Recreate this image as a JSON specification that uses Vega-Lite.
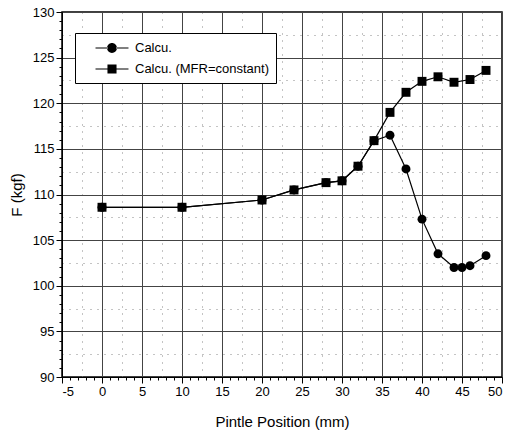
{
  "$schema": "https://vega.github.io/schema/vega-lite/v6.json",
  "width": 440,
  "height": 365,
  "autosize": {"type": "none"},
  "padding": {"left": 62, "top": 12, "right": 6, "bottom": 62},
  "background": "white",
  "config": {
    "view": {"stroke": "black", "strokeWidth": 1.5},
    "font": "Liberation Sans",
    "axis": {"labelColor": "black", "titleColor": "black", "tickColor": "black", "domainColor": "black"}
  },
  "data": {
    "values": [
      {"series": "Calcu.", "x": 0, "y": 108.6},
      {"series": "Calcu.", "x": 10, "y": 108.6},
      {"series": "Calcu.", "x": 20, "y": 109.4},
      {"series": "Calcu.", "x": 24, "y": 110.5},
      {"series": "Calcu.", "x": 28, "y": 111.3},
      {"series": "Calcu.", "x": 30, "y": 111.5},
      {"series": "Calcu.", "x": 32, "y": 113.1},
      {"series": "Calcu.", "x": 34, "y": 115.9},
      {"series": "Calcu.", "x": 36, "y": 116.5},
      {"series": "Calcu.", "x": 38, "y": 112.8},
      {"series": "Calcu.", "x": 40, "y": 107.3},
      {"series": "Calcu.", "x": 42, "y": 103.5},
      {"series": "Calcu.", "x": 44, "y": 102.0},
      {"series": "Calcu.", "x": 45, "y": 102.0},
      {"series": "Calcu.", "x": 46, "y": 102.2},
      {"series": "Calcu.", "x": 48, "y": 103.3},
      {"series": "Calcu. (MFR=constant)", "x": 0, "y": 108.6},
      {"series": "Calcu. (MFR=constant)", "x": 10, "y": 108.6},
      {"series": "Calcu. (MFR=constant)", "x": 20, "y": 109.4},
      {"series": "Calcu. (MFR=constant)", "x": 24, "y": 110.5},
      {"series": "Calcu. (MFR=constant)", "x": 28, "y": 111.3},
      {"series": "Calcu. (MFR=constant)", "x": 30, "y": 111.5},
      {"series": "Calcu. (MFR=constant)", "x": 32, "y": 113.1},
      {"series": "Calcu. (MFR=constant)", "x": 34, "y": 115.9},
      {"series": "Calcu. (MFR=constant)", "x": 36, "y": 119.0},
      {"series": "Calcu. (MFR=constant)", "x": 38, "y": 121.2},
      {"series": "Calcu. (MFR=constant)", "x": 40, "y": 122.4},
      {"series": "Calcu. (MFR=constant)", "x": 42, "y": 122.9},
      {"series": "Calcu. (MFR=constant)", "x": 44, "y": 122.3},
      {"series": "Calcu. (MFR=constant)", "x": 46, "y": 122.6},
      {"series": "Calcu. (MFR=constant)", "x": 48, "y": 123.6}
    ]
  },
  "resolve": {
    "axis": {"x": "independent", "y": "independent"}
  },
  "layer": [
    {
      "transform": [{"filter": "datum.x > 1000"}],
      "mark": {"type": "point", "filled": true, "color": "black", "opacity": 1, "size": 272},
      "encoding": {
        "x": {"field": "x", "type": "quantitative", "scale": {"domain": [-5, 50], "nice": false, "zero": false},
          "axis": {"orient": "bottom", "values": [-4,-3,-2,-1,1,2,3,4,6,7,8,9,11,12,13,14,16,17,18,19,21,22,23,24,26,27,28,29,31,32,33,34,36,37,38,39,41,42,43,44,46,47,48,49], "labels": false, "grid": false, "domain": false, "tickSize": 3, "title": null}},
        "y": {"field": "y", "type": "quantitative", "scale": {"domain": [90, 130], "nice": false, "zero": false},
          "axis": {"orient": "left", "values": [91,92,93,94,96,97,98,99,101,102,103,104,106,107,108,109,111,112,113,114,116,117,118,119,121,122,123,124,126,127,128,129], "labels": false, "grid": false, "domain": false, "tickSize": 3, "title": null}},
        "shape": {"field": "series", "type": "nominal",
          "scale": {"domain": ["Calcu.", "Calcu. (MFR=constant)"], "range": ["M-2,-0.07H-0.5V0.07H-2ZM0.5,-0.07H2V0.07H0.5ZM-0.6,0A0.6,0.6 0 1,0 0.6,0A0.6,0.6 0 1,0 -0.6,0Z", "M-2,-0.07H-0.5V0.07H-2ZM0.5,-0.07H2V0.07H0.5ZM-0.55,-0.55H0.55V0.55H-0.55Z"]},
          "legend": {"title": null, "orient": "none", "legendX": 13, "legendY": 21, "strokeColor": "black", "fillColor": "white", "padding": 6, "rowPadding": 4, "labelFontSize": 13, "labelColor": "black", "symbolSize": 272, "symbolFillColor": "black", "symbolOpacity": 1, "symbolOffset": 22, "labelOffset": 14}}
      }
    },
    {
      "transform": [{"filter": "datum.x > 1000"}],
      "mark": {"type": "point", "opacity": 0},
      "encoding": {
        "x": {"field": "x", "type": "quantitative", "scale": {"domain": [-5, 50], "nice": false, "zero": false},
          "axis": {"orient": "bottom", "values": [-2.5, 2.5, 7.5, 12.5, 17.5, 22.5, 27.5, 32.5, 37.5, 42.5, 47.5], "labels": false, "ticks": false, "domain": false, "grid": true, "gridColor": "#888", "gridDash": [1, 6], "gridWidth": 1, "title": null}},
        "y": {"field": "y", "type": "quantitative", "scale": {"domain": [90, 130], "nice": false, "zero": false},
          "axis": {"orient": "left", "values": [92.5, 97.5, 102.5, 107.5, 112.5, 117.5, 122.5, 127.5], "labels": false, "ticks": false, "domain": false, "grid": true, "gridColor": "#888", "gridDash": [1, 6], "gridWidth": 1, "title": null}}
      }
    },
    {
      "mark": {"type": "line", "color": "black", "strokeWidth": 1.2},
      "encoding": {
        "x": {"field": "x", "type": "quantitative", "scale": {"domain": [-5, 50], "nice": false, "zero": false},
          "axis": {"orient": "bottom", "values": [-5, 0, 5, 10, 15, 20, 25, 30, 35, 40, 45, 50], "labelExpr": "replace(datum.label, '−', '-')", "grid": true, "gridColor": "#444", "gridWidth": 1, "tickSize": 6, "labelFontSize": 13, "labelPadding": 2, "title": "Pintle Position (mm)", "titleFontSize": 15, "titleFontWeight": "normal", "titlePadding": 16}},
        "y": {"field": "y", "type": "quantitative", "scale": {"domain": [90, 130], "nice": false, "zero": false},
          "axis": {"orient": "left", "values": [90, 95, 100, 105, 110, 115, 120, 125, 130], "grid": true, "gridColor": "#444", "gridWidth": 1, "tickSize": 6, "labelFontSize": 13, "labelPadding": 2, "title": "F (kgf)", "titleFontSize": 15, "titleFontWeight": "normal", "titlePadding": 8}},
        "detail": {"field": "series", "type": "nominal"},
        "order": {"field": "x", "type": "quantitative"}
      }
    },
    {
      "transform": [{"filter": "datum.series === 'Calcu.'"}],
      "mark": {"type": "point", "shape": "circle", "filled": true, "color": "black", "opacity": 1, "size": 80},
      "encoding": {
        "x": {"field": "x", "type": "quantitative", "scale": {"domain": [-5, 50], "nice": false, "zero": false}, "axis": null},
        "y": {"field": "y", "type": "quantitative", "scale": {"domain": [90, 130], "nice": false, "zero": false}, "axis": null}
      }
    },
    {
      "transform": [{"filter": "datum.series !== 'Calcu.'"}],
      "mark": {"type": "point", "shape": "square", "filled": true, "color": "black", "opacity": 1, "size": 80},
      "encoding": {
        "x": {"field": "x", "type": "quantitative", "scale": {"domain": [-5, 50], "nice": false, "zero": false}, "axis": null},
        "y": {"field": "y", "type": "quantitative", "scale": {"domain": [90, 130], "nice": false, "zero": false}, "axis": null}
      }
    }
  ]
}
